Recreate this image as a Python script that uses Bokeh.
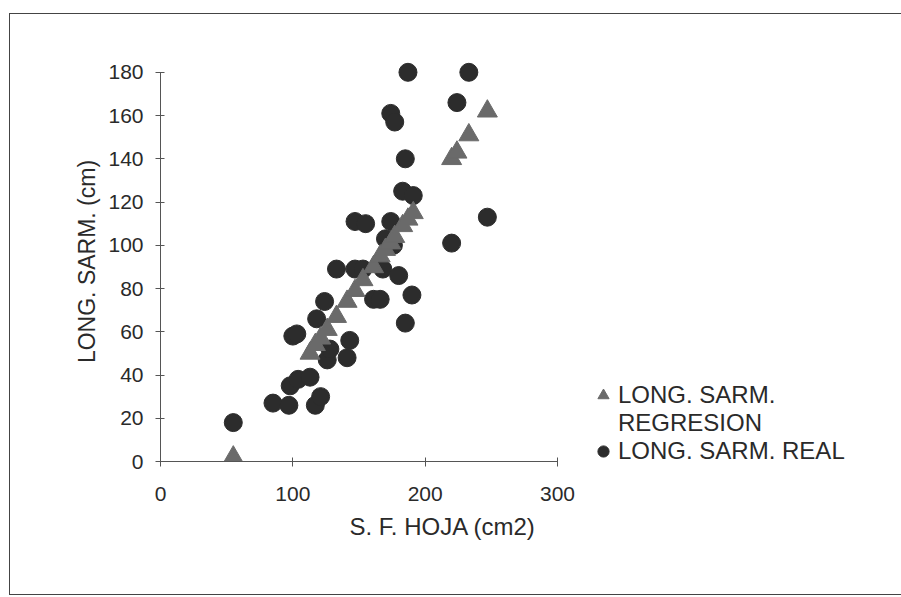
from bokeh.plotting import figure
from bokeh.models import Range1d, FixedTicker, Legend, LegendItem, Title, ColumnDataSource
from bokeh.embed import file_html
from bokeh.resources import INLINE

# --- data ---
real_x = [55, 85, 97, 98, 104, 113, 117, 121, 100, 103, 118, 124, 126, 128, 141, 143,
          133, 147, 147, 155, 153, 168, 161, 166, 170, 176, 174, 180, 190, 185, 183, 191,
          185, 174, 177, 187, 233, 224, 220, 247]
real_y = [18, 27, 26, 35, 38, 39, 26, 30, 58, 59, 66, 74, 47, 52, 48, 56,
          89, 89, 111, 110, 89, 89, 75, 75, 103, 100, 111, 86, 77, 64, 125, 123,
          140, 161, 157, 180, 180, 166, 101, 113]
reg_x = [55, 113, 117, 121, 126, 133, 141, 147, 153, 161, 166, 170, 174, 177, 183, 187, 191,
         220, 224, 233, 247]
reg_y = [2, 50, 54, 57, 61, 67, 74, 79, 84, 90, 95, 98, 101, 104, 109, 112, 115,
         140, 143, 151, 162]
x_ticks = [0, 100, 200, 300]
y_ticks = [0, 20, 40, 60, 80, 100, 120, 140, 160, 180]
x_title = "S. F. HOJA (cm2)"
y_title = "LONG. SARM. (cm)"
leg_reg = ["LONG. SARM.", "REGRESION"]
leg_real = "LONG. SARM. REAL"

FONT = "Liberation Sans"
TXT = "#2a2a2a"

p = figure(frame_width=397, frame_height=400, output_backend="svg", toolbar_location=None,
           x_range=Range1d(0, 300), y_range=Range1d(0, 185),
           min_border_left=150, min_border_right=333, min_border_top=47, min_border_bottom=133)
p.styles = {"border": "1px solid #444", "margin-left": "9px", "margin-top": "13px"}
p.outline_line_color = None
p.grid.grid_line_color = None
p.background_fill_color = "white"
p.border_fill_color = "white"

for ax in (p.xaxis[0], p.yaxis[0]):
    ax.axis_line_color = "#555555"
    ax.major_tick_line_color = "#555555"
    ax.major_tick_in = 4
    ax.major_tick_out = 5
    ax.minor_tick_line_color = None
    ax.major_label_text_font = FONT
    ax.major_label_text_font_size = "21px"
    ax.major_label_text_color = TXT
    ax.axis_label_text_font = FONT
    ax.axis_label_text_font_size = "23px"
    ax.axis_label_text_font_style = "normal"
    ax.axis_label_text_color = TXT

p.xaxis.ticker = FixedTicker(ticks=x_ticks)
p.yaxis.ticker = FixedTicker(ticks=y_ticks)
p.xaxis.bounds = (0, 300)
p.yaxis.bounds = (0, 180)
p.xaxis.major_label_standoff = 20
p.yaxis.major_label_standoff = 12
p.yaxis.axis_label = y_title
p.yaxis.axis_label_standoff = 5

src_real = ColumnDataSource(dict(x=real_x, y=real_y))
src_reg = ColumnDataSource(dict(x=reg_x, y=reg_y))
r_real = p.scatter("x", "y", source=src_real, marker="circle", size=18,
                   fill_color="#2c2c2c", line_color="#2c2c2c")
r_reg = p.scatter("x", "y", source=src_reg, marker="triangle", size=20,
                  fill_color="#6a6a6a", line_color="#6a6a6a")
r_dummy = p.scatter(x=[], y=[], marker="circle", size=1, fill_alpha=0, line_alpha=0)

xt = Title(text=x_title, align="left", offset=189, standoff=14,
           text_font=FONT, text_font_size="24px", text_font_style="normal", text_color=TXT)
p.add_layout(xt, "below")

legend = Legend(items=[LegendItem(label=leg_reg[0], renderers=[r_reg]),
                       LegendItem(label=leg_reg[1], renderers=[r_dummy]),
                       LegendItem(label=leg_real, renderers=[r_real])],
                location=(31, -4), orientation="vertical",
                glyph_width=30, glyph_height=28, label_height=27, spacing=0,
                label_standoff=-1, padding=0, margin=0,
                border_line_color=None, background_fill_alpha=0,
                label_text_font=FONT, label_text_font_size="24px", label_text_color=TXT)
p.add_layout(legend, "right")

open("out.html", "w").write(file_html(p, INLINE))
